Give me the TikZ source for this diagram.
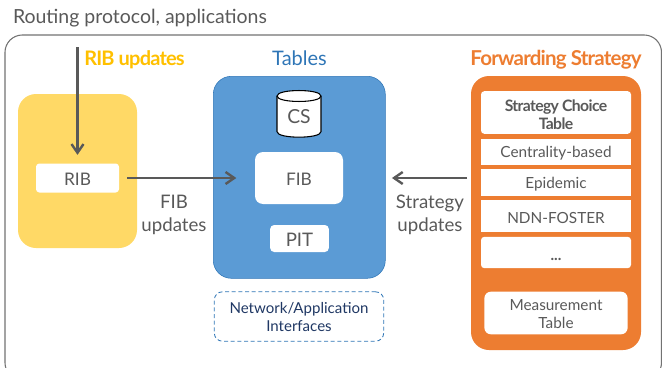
\documentclass[tikz,border=0pt]{standalone}
\usepackage{fontspec}
\setmainfont{Lato}
\newfontfamily\tightbold[LetterSpace=-4,BoldFont={Lato Bold}]{Lato}
\usetikzlibrary{arrows.meta}
\definecolor{cyel}{HTML}{FFD966}
\definecolor{cblu}{HTML}{5B9BD5}
\definecolor{corg}{HTML}{ED7D31}
\definecolor{ctxt}{HTML}{595959}
\definecolor{ctitley}{HTML}{FFC000}
\definecolor{ctitleb}{HTML}{2E75B6}
\definecolor{cnavy}{HTML}{203864}
\newcommand\dn[1]{\raisebox{-1.2pt}[\height][\depth]{#1}}
\newcommand\twol[3][-2pt]{\raisebox{#1}[\height][\depth]{\begin{tabular}{@{}c@{}}#2\\#3\end{tabular}}}
\tikzset{
  x=0.75pt,y=-0.75pt,
  base/.style={inner sep=0pt,outer sep=0pt,align=center,text=ctxt},
  box/.style={base,rectangle,draw=none,fill=#1},
  panel/.style={box=#1,rounded corners=13.5pt},
  whitebox/.style={box=white,rounded corners=2.5pt,font=\fontsize{11.5}{13.5}\selectfont},
  squarebox/.style={box=white,font=\fontsize{11.5}{13.5}\selectfont},
  label/.style={base,font=\fontsize{14}{17.2}\selectfont},
  headtitle/.style={base,font=\tightbold\bfseries\fontsize{15}{18}\selectfont},
  conn/.style={draw=ctxt,line width=2pt,-{Straight Barb[length=6.5pt,width=9pt,line width=1.8pt]}}
}
\begin{document}
\begin{tikzpicture}
\useasboundingbox (0,0) rectangle (662,368);
\begin{scope}
\clip (0,0) rectangle (662,368);
\draw[draw=ctxt!85,line width=0.8pt,rounded corners=13pt] (5,35) rectangle (661.5,380);
\end{scope}
\node[base,anchor=west,font=\fontsize{14.6}{17}\selectfont] (title) at (13,18) {Routing protocol, applications};
\node[panel=cyel,minimum width=89.25pt,minimum height=115.5pt] (ribpanel) at (77.5,171) {};
\node[whitebox,font=\fontsize{13}{16}\selectfont,minimum width=62.25pt,minimum height=21.75pt] (rib) at (77.5,178) {\dn{RIB}};
\node[headtitle,text=ctitley] (ribtitle) at (134.5,60) {RIB updates};
\coordinate (ribin) at (77.5,47);
\node[label] (fibup) at (174,215) {FIB\\updates};
\node[panel=cblu,draw=ctitleb,line width=0.4pt,minimum width=129pt,minimum height=151.5pt] (tables) at (299.3,177.3) {};
\node[base,font=\fontsize{15}{18}\selectfont,text=ctitleb] (tabtitle) at (299.5,58.5) {Tables};
\draw[draw=black,fill=white,line width=0.8pt] (277,96) .. controls (277,88.7) and (321,88.7) .. (321,96) -- (321,131.7) .. controls (321,139) and (277,139) .. (277,131.7) -- cycle;
\draw[draw=black,line width=0.8pt] (277,96) .. controls (277,103.3) and (321,103.3) .. (321,96);
\node[base,font=\fontsize{14.5}{17}\selectfont] (cs) at (299,117) {CS};
\node[whitebox,rounded corners=6pt,font=\fontsize{13}{16}\selectfont,minimum width=66pt,minimum height=39pt] (fib) at (299,178) {\dn{FIB}};
\node[whitebox,rounded corners=3pt,minimum width=44pt,minimum height=20.25pt,font=\fontsize{14}{17}\selectfont] (pit) at (299.5,238.5) {\dn{PIT}};
\node[base,rectangle,rounded corners=6pt,draw=ctitleb,densely dashed,line width=0.6pt,minimum width=127pt,minimum height=37pt,text=cnavy,font=\fontsize{11.3}{13.5}\selectfont] (net) at (299,316.5) {\twol{Network/Application}{Interfaces}};
\node[panel=corg,minimum width=127.5pt,minimum height=205.5pt] (orange) at (556,213) {};
\node[headtitle,text=corg,font=\tightbold\bfseries\fontsize{15.4}{18}\selectfont] (fwdtitle) at (556,59.5) {Forwarding Strategy};
\node[base,minimum width=112.5pt,minimum height=32pt,fill=white,rounded corners=2.5pt,font=\tightbold\bfseries\fontsize{11.8}{13.5}\selectfont] (sct) at (556,112.5) {\twol[-3.2pt]{Strategy Choice}{Table}};
\node[squarebox,minimum width=112.5pt,minimum height=20pt] (cent) at (556,152) {\dn{Centrality-based}};
\node[squarebox,minimum width=112.5pt,minimum height=20pt] (epi) at (556,182.5) {\dn{Epidemic}};
\node[squarebox,minimum width=112.5pt,minimum height=23.5pt] (ndn) at (556,216) {\dn{NDN-FOSTER}};
\node[whitebox,minimum width=112.5pt,minimum height=23.5pt] (dots) at (556,252.5) {\raisebox{-5pt}[\height][\depth]{\textbf{...}}};
\node[whitebox,rounded corners=5pt,minimum width=107.5pt,minimum height=32pt,text=ctxt] (meas) at (556,313) {\twol{Measurement}{Table}};
\node[label] (stratup) at (430,215) {Strategy\\updates};
\draw[conn,shorten >=6.5pt] (ribin) -- (rib.north);
\draw[conn,shorten <=6pt,shorten >=14pt] (rib.east) -- (fib.west);
\draw[conn,shorten <=3pt,shorten >=5pt] (orange.west |- fib.east) -- (tables.east |- fib.east);
\end{tikzpicture}
\end{document}
